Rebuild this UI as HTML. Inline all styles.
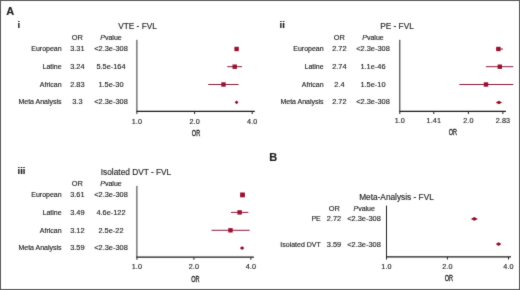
<!DOCTYPE html>
<html><head><meta charset="utf-8"><style>
html,body{margin:0;padding:0;background:#fff;}
#c{position:relative;width:520px;height:290px;overflow:hidden;background:#fff;}
svg{display:block;font-family:"Liberation Sans", sans-serif;}
text{stroke:#1e1e1e;stroke-width:0.15px;}
</style></head><body><div id="c">
<svg width="520" height="290" viewBox="0 0 520 290">
<defs><filter id="bl" x="0" y="0" width="520" height="290" filterUnits="userSpaceOnUse" color-interpolation-filters="sRGB"><feConvolveMatrix order="3" kernelMatrix="0.02 0.07 0.02 0.07 0.64 0.07 0.02 0.07 0.02" edgeMode="duplicate" preserveAlpha="false"/></filter></defs>
<g filter="url(#bl)">
<rect x="0" y="0" width="520" height="290" fill="#fff"/>
<rect x="0.5" y="0.5" width="519" height="289" fill="none" stroke="#5a5a5a" stroke-width="1"/>
<text x="6.3" y="15.4" font-size="11" text-anchor="start" font-weight="bold" font-style="normal" fill="#1e1e1e" >A</text>
<text x="17.5" y="28.2" font-size="9.5" text-anchor="start" font-weight="bold" font-style="normal" fill="#1e1e1e" >i</text>
<text x="137.5" y="29.0" font-size="8.3" text-anchor="middle" font-weight="normal" font-style="normal" fill="#1e1e1e" >VTE - FVL</text>
<text x="77.4" y="40.2" font-size="7.4" text-anchor="middle" font-weight="normal" font-style="normal" fill="#1e1e1e" >OR</text>
<text x="111.0" y="40.2" font-size="7" text-anchor="middle" font-weight="normal" font-style="normal" fill="#1e1e1e" ><tspan font-style="italic">P</tspan>value</text>
<text x="61.6" y="51.3" font-size="7" text-anchor="end" font-weight="normal" font-style="normal" fill="#1e1e1e" >European</text>
<text x="77.4" y="51.3" font-size="7.4" text-anchor="middle" font-weight="normal" font-style="normal" fill="#1e1e1e" >3.31</text>
<text x="111.0" y="51.3" font-size="7.4" text-anchor="middle" font-weight="normal" font-style="normal" fill="#1e1e1e" >&lt;2.3e-308</text>
<text x="61.6" y="68.6" font-size="7" text-anchor="end" font-weight="normal" font-style="normal" fill="#1e1e1e" >Latine</text>
<text x="77.4" y="68.6" font-size="7.4" text-anchor="middle" font-weight="normal" font-style="normal" fill="#1e1e1e" >3.24</text>
<text x="111.0" y="68.6" font-size="7.4" text-anchor="middle" font-weight="normal" font-style="normal" fill="#1e1e1e" >5.5e-164</text>
<text x="61.6" y="86.6" font-size="7" text-anchor="end" font-weight="normal" font-style="normal" fill="#1e1e1e" >African</text>
<text x="77.4" y="86.6" font-size="7.4" text-anchor="middle" font-weight="normal" font-style="normal" fill="#1e1e1e" >2.83</text>
<text x="111.0" y="86.6" font-size="7.4" text-anchor="middle" font-weight="normal" font-style="normal" fill="#1e1e1e" >1.5e-30</text>
<text x="61.6" y="104.1" font-size="7" text-anchor="end" font-weight="normal" font-style="normal" fill="#1e1e1e" >Meta Analysis</text>
<text x="77.4" y="104.1" font-size="7.4" text-anchor="middle" font-weight="normal" font-style="normal" fill="#1e1e1e" >3.3</text>
<text x="111.0" y="104.1" font-size="7.4" text-anchor="middle" font-weight="normal" font-style="normal" fill="#1e1e1e" >&lt;2.3e-308</text>
<line x1="136.9" y1="39.8" x2="136.9" y2="111.45" stroke="#333" stroke-width="1.0"/>
<line x1="136.4" y1="111.45" x2="254.8" y2="111.45" stroke="#181818" stroke-width="1.2"/>
<line x1="136.9" y1="111.45" x2="136.9" y2="114.05" stroke="#222" stroke-width="1.0"/>
<text x="136.9" y="123.9" font-size="7.2" text-anchor="middle" font-weight="normal" font-style="normal" fill="#1e1e1e" letter-spacing="0.1" stroke="#1e1e1e" stroke-width="0.15">1.0</text>
<line x1="194.6" y1="111.45" x2="194.6" y2="114.05" stroke="#222" stroke-width="1.0"/>
<text x="194.6" y="123.9" font-size="7.2" text-anchor="middle" font-weight="normal" font-style="normal" fill="#1e1e1e" letter-spacing="0.1" stroke="#1e1e1e" stroke-width="0.15">2.0</text>
<line x1="252.2" y1="111.45" x2="252.2" y2="114.05" stroke="#222" stroke-width="1.0"/>
<text x="252.2" y="123.9" font-size="7.2" text-anchor="middle" font-weight="normal" font-style="normal" fill="#1e1e1e" letter-spacing="0.1" stroke="#1e1e1e" stroke-width="0.15">4.0</text>
<text transform="translate(196.0,135.7) scale(0.62,1)" x="0" y="0" font-size="9.0" text-anchor="middle" fill="#1e1e1e" style="stroke-width:0.35px">OR</text>
<rect x="234.4" y="46.8" width="4.4" height="4.4" fill="#981030"/>
<line x1="227.2" y1="66.7" x2="242.0" y2="66.7" stroke="#8a1838" stroke-width="1.0"/>
<rect x="232.5" y="64.5" width="4.4" height="4.4" fill="#981030"/>
<line x1="208.2" y1="84.5" x2="238.6" y2="84.5" stroke="#8a1838" stroke-width="1.0"/>
<rect x="221.3" y="82.3" width="4.4" height="4.4" fill="#981030"/>
<path d="M234.7,102.35 L236.6,100.44999999999999 L238.5,102.35 L236.6,104.25 Z" fill="#8e0c26"/>
<text x="279.5" y="28.2" font-size="9.5" text-anchor="start" font-weight="bold" font-style="normal" fill="#1e1e1e" >ii</text>
<text x="397" y="29.0" font-size="8.3" text-anchor="middle" font-weight="normal" font-style="normal" fill="#1e1e1e" >PE - FVL</text>
<text x="339.4" y="40.2" font-size="7.4" text-anchor="middle" font-weight="normal" font-style="normal" fill="#1e1e1e" >OR</text>
<text x="373.0" y="40.2" font-size="7" text-anchor="middle" font-weight="normal" font-style="normal" fill="#1e1e1e" ><tspan font-style="italic">P</tspan>value</text>
<text x="323.6" y="51.3" font-size="7" text-anchor="end" font-weight="normal" font-style="normal" fill="#1e1e1e" >European</text>
<text x="339.4" y="51.3" font-size="7.4" text-anchor="middle" font-weight="normal" font-style="normal" fill="#1e1e1e" >2.72</text>
<text x="373.0" y="51.3" font-size="7.4" text-anchor="middle" font-weight="normal" font-style="normal" fill="#1e1e1e" >&lt;2.3e-308</text>
<text x="323.6" y="68.6" font-size="7" text-anchor="end" font-weight="normal" font-style="normal" fill="#1e1e1e" >Latine</text>
<text x="339.4" y="68.6" font-size="7.4" text-anchor="middle" font-weight="normal" font-style="normal" fill="#1e1e1e" >2.74</text>
<text x="373.0" y="68.6" font-size="7.4" text-anchor="middle" font-weight="normal" font-style="normal" fill="#1e1e1e" >1.1e-46</text>
<text x="323.6" y="86.6" font-size="7" text-anchor="end" font-weight="normal" font-style="normal" fill="#1e1e1e" >African</text>
<text x="339.4" y="86.6" font-size="7.4" text-anchor="middle" font-weight="normal" font-style="normal" fill="#1e1e1e" >2.4</text>
<text x="373.0" y="86.6" font-size="7.4" text-anchor="middle" font-weight="normal" font-style="normal" fill="#1e1e1e" >1.5e-10</text>
<text x="323.6" y="104.1" font-size="7" text-anchor="end" font-weight="normal" font-style="normal" fill="#1e1e1e" >Meta Analysis</text>
<text x="339.4" y="104.1" font-size="7.4" text-anchor="middle" font-weight="normal" font-style="normal" fill="#1e1e1e" >2.72</text>
<text x="373.0" y="104.1" font-size="7.4" text-anchor="middle" font-weight="normal" font-style="normal" fill="#1e1e1e" >&lt;2.3e-308</text>
<line x1="399.8" y1="39.8" x2="399.8" y2="111.45" stroke="#222" stroke-width="1.0"/>
<line x1="399.3" y1="111.45" x2="505.9" y2="111.45" stroke="#181818" stroke-width="1.2"/>
<line x1="399.8" y1="111.45" x2="399.8" y2="114.05" stroke="#222" stroke-width="1.0"/>
<text x="399.8" y="123.2" font-size="7.2" text-anchor="middle" font-weight="normal" font-style="normal" fill="#1e1e1e" letter-spacing="0.1" stroke="#1e1e1e" stroke-width="0.15">1.0</text>
<line x1="433.8" y1="111.45" x2="433.8" y2="114.05" stroke="#222" stroke-width="1.0"/>
<text x="433.8" y="123.2" font-size="7.2" text-anchor="middle" font-weight="normal" font-style="normal" fill="#1e1e1e" letter-spacing="0.1" stroke="#1e1e1e" stroke-width="0.15">1.41</text>
<line x1="468.4" y1="111.45" x2="468.4" y2="114.05" stroke="#222" stroke-width="1.0"/>
<text x="468.4" y="123.2" font-size="7.2" text-anchor="middle" font-weight="normal" font-style="normal" fill="#1e1e1e" letter-spacing="0.1" stroke="#1e1e1e" stroke-width="0.15">2.0</text>
<line x1="502.9" y1="111.45" x2="502.9" y2="114.05" stroke="#222" stroke-width="1.0"/>
<text x="502.9" y="123.2" font-size="7.2" text-anchor="middle" font-weight="normal" font-style="normal" fill="#1e1e1e" letter-spacing="0.1" stroke="#1e1e1e" stroke-width="0.15">2.83</text>
<text transform="translate(452.9,135.3) scale(0.62,1)" x="0" y="0" font-size="9.0" text-anchor="middle" fill="#1e1e1e" style="stroke-width:0.35px">OR</text>
<line x1="496.0" y1="49.0" x2="503.0" y2="49.0" stroke="#8a1838" stroke-width="1.0"/>
<rect x="496.2" y="46.8" width="4.4" height="4.4" fill="#981030"/>
<line x1="485.9" y1="66.7" x2="513.3" y2="66.7" stroke="#8a1838" stroke-width="1.0"/>
<rect x="497.6" y="64.5" width="4.4" height="4.4" fill="#981030"/>
<line x1="459.3" y1="84.5" x2="513.3" y2="84.5" stroke="#8a1838" stroke-width="1.0"/>
<rect x="483.8" y="82.3" width="4.4" height="4.4" fill="#981030"/>
<path d="M495.7,102.45 L498.9,100.65 L502.09999999999997,102.45 L498.9,104.25 Z" fill="#8e0c26"/>
<text x="17.5" y="174.2" font-size="9.5" text-anchor="start" font-weight="bold" font-style="normal" fill="#1e1e1e" >iii</text>
<text x="136.0" y="175.0" font-size="8.3" text-anchor="middle" font-weight="normal" font-style="normal" fill="#1e1e1e" >Isolated DVT - FVL</text>
<text x="77.4" y="186.2" font-size="7.4" text-anchor="middle" font-weight="normal" font-style="normal" fill="#1e1e1e" >OR</text>
<text x="111.0" y="186.2" font-size="7" text-anchor="middle" font-weight="normal" font-style="normal" fill="#1e1e1e" ><tspan font-style="italic">P</tspan>value</text>
<text x="61.6" y="197.3" font-size="7" text-anchor="end" font-weight="normal" font-style="normal" fill="#1e1e1e" >European</text>
<text x="77.4" y="197.3" font-size="7.4" text-anchor="middle" font-weight="normal" font-style="normal" fill="#1e1e1e" >3.61</text>
<text x="111.0" y="197.3" font-size="7.4" text-anchor="middle" font-weight="normal" font-style="normal" fill="#1e1e1e" >&lt;2.3e-308</text>
<text x="61.6" y="214.6" font-size="7" text-anchor="end" font-weight="normal" font-style="normal" fill="#1e1e1e" >Latine</text>
<text x="77.4" y="214.6" font-size="7.4" text-anchor="middle" font-weight="normal" font-style="normal" fill="#1e1e1e" >3.49</text>
<text x="111.0" y="214.6" font-size="7.4" text-anchor="middle" font-weight="normal" font-style="normal" fill="#1e1e1e" >4.6e-122</text>
<text x="61.6" y="232.6" font-size="7" text-anchor="end" font-weight="normal" font-style="normal" fill="#1e1e1e" >African</text>
<text x="77.4" y="232.6" font-size="7.4" text-anchor="middle" font-weight="normal" font-style="normal" fill="#1e1e1e" >3.12</text>
<text x="111.0" y="232.6" font-size="7.4" text-anchor="middle" font-weight="normal" font-style="normal" fill="#1e1e1e" >2.5e-22</text>
<text x="61.6" y="250.1" font-size="7" text-anchor="end" font-weight="normal" font-style="normal" fill="#1e1e1e" >Meta Analysis</text>
<text x="77.4" y="250.1" font-size="7.4" text-anchor="middle" font-weight="normal" font-style="normal" fill="#1e1e1e" >3.59</text>
<text x="111.0" y="250.1" font-size="7.4" text-anchor="middle" font-weight="normal" font-style="normal" fill="#1e1e1e" >&lt;2.3e-308</text>
<line x1="136.9" y1="185.9" x2="136.9" y2="257.2" stroke="#333" stroke-width="1.0"/>
<line x1="136.4" y1="257.2" x2="253.9" y2="257.2" stroke="#181818" stroke-width="1.2"/>
<line x1="136.9" y1="257.2" x2="136.9" y2="259.8" stroke="#222" stroke-width="1.0"/>
<text x="136.9" y="269.2" font-size="7.2" text-anchor="middle" font-weight="normal" font-style="normal" fill="#1e1e1e" letter-spacing="0.1" stroke="#1e1e1e" stroke-width="0.15">1.0</text>
<line x1="193.9" y1="257.2" x2="193.9" y2="259.8" stroke="#222" stroke-width="1.0"/>
<text x="193.9" y="269.2" font-size="7.2" text-anchor="middle" font-weight="normal" font-style="normal" fill="#1e1e1e" letter-spacing="0.1" stroke="#1e1e1e" stroke-width="0.15">2.0</text>
<line x1="250.9" y1="257.2" x2="250.9" y2="259.8" stroke="#222" stroke-width="1.0"/>
<text x="250.9" y="269.2" font-size="7.2" text-anchor="middle" font-weight="normal" font-style="normal" fill="#1e1e1e" letter-spacing="0.1" stroke="#1e1e1e" stroke-width="0.15">4.0</text>
<text transform="translate(195.4,281.6) scale(0.62,1)" x="0" y="0" font-size="9.0" text-anchor="middle" fill="#1e1e1e" style="stroke-width:0.35px">OR</text>
<rect x="240.1" y="192.5" width="4.8" height="4.8" fill="#981030"/>
<line x1="231.0" y1="212.4" x2="248.4" y2="212.4" stroke="#8a1838" stroke-width="1.0"/>
<rect x="237.4" y="210.20000000000002" width="4.4" height="4.4" fill="#981030"/>
<line x1="211.5" y1="230.3" x2="249.7" y2="230.3" stroke="#8a1838" stroke-width="1.0"/>
<rect x="228.3" y="228.10000000000002" width="4.4" height="4.4" fill="#981030"/>
<path d="M239.79999999999998,248.1 L242.1,246.29999999999998 L244.4,248.1 L242.1,249.9 Z" fill="#8e0c26"/>
<text x="269.2" y="161.1" font-size="11" text-anchor="start" font-weight="bold" font-style="normal" fill="#1e1e1e" >B</text>
<text x="396.5" y="199.6" font-size="8.3" text-anchor="middle" font-weight="normal" font-style="normal" fill="#1e1e1e" >Meta-Analysis - FVL</text>
<text x="334.3" y="211.0" font-size="7.4" text-anchor="middle" font-weight="normal" font-style="normal" fill="#1e1e1e" >OR</text>
<text x="364.2" y="211.0" font-size="7" text-anchor="middle" font-weight="normal" font-style="normal" fill="#1e1e1e" ><tspan font-style="italic">P</tspan>value</text>
<text x="320.8" y="221.4" font-size="7" text-anchor="end" font-weight="normal" font-style="normal" fill="#1e1e1e" >PE</text>
<text x="334.0" y="221.4" font-size="7.4" text-anchor="middle" font-weight="normal" font-style="normal" fill="#1e1e1e" >2.72</text>
<text x="364.0" y="221.4" font-size="7.4" text-anchor="middle" font-weight="normal" font-style="normal" fill="#1e1e1e" >&lt;2.3e-308</text>
<text x="320.8" y="246.8" font-size="7" text-anchor="end" font-weight="normal" font-style="normal" fill="#1e1e1e" >Isolated DVT</text>
<text x="334.0" y="246.8" font-size="7.4" text-anchor="middle" font-weight="normal" font-style="normal" fill="#1e1e1e" >3.59</text>
<text x="364.0" y="246.8" font-size="7.4" text-anchor="middle" font-weight="normal" font-style="normal" fill="#1e1e1e" >&lt;2.3e-308</text>
<line x1="386.5" y1="205.6" x2="386.5" y2="256.9" stroke="#222" stroke-width="1.0"/>
<line x1="386.0" y1="256.9" x2="511.0" y2="256.9" stroke="#181818" stroke-width="1.2"/>
<line x1="386.5" y1="256.9" x2="386.5" y2="259.5" stroke="#222" stroke-width="1.0"/>
<text x="386.5" y="269.2" font-size="7.2" text-anchor="middle" font-weight="normal" font-style="normal" fill="#1e1e1e" letter-spacing="0.1" stroke="#1e1e1e" stroke-width="0.15">1.0</text>
<line x1="447.4" y1="256.9" x2="447.4" y2="259.5" stroke="#222" stroke-width="1.0"/>
<text x="447.4" y="269.2" font-size="7.2" text-anchor="middle" font-weight="normal" font-style="normal" fill="#1e1e1e" letter-spacing="0.1" stroke="#1e1e1e" stroke-width="0.15">2.0</text>
<line x1="508.5" y1="256.9" x2="508.5" y2="259.5" stroke="#222" stroke-width="1.0"/>
<text x="508.5" y="269.2" font-size="7.2" text-anchor="middle" font-weight="normal" font-style="normal" fill="#1e1e1e" letter-spacing="0.1" stroke="#1e1e1e" stroke-width="0.15">4.0</text>
<text transform="translate(448.9,281.4) scale(0.62,1)" x="0" y="0" font-size="9.0" text-anchor="middle" fill="#1e1e1e" style="stroke-width:0.35px">OR</text>
<path d="M470.8,218.9 L474.3,217.1 L477.8,218.9 L474.3,220.70000000000002 Z" fill="#8e0c26"/>
<path d="M495.8,244.1 L498.6,242.29999999999998 L501.40000000000003,244.1 L498.6,245.9 Z" fill="#8e0c26"/>
</g>
</svg></div></body></html>
